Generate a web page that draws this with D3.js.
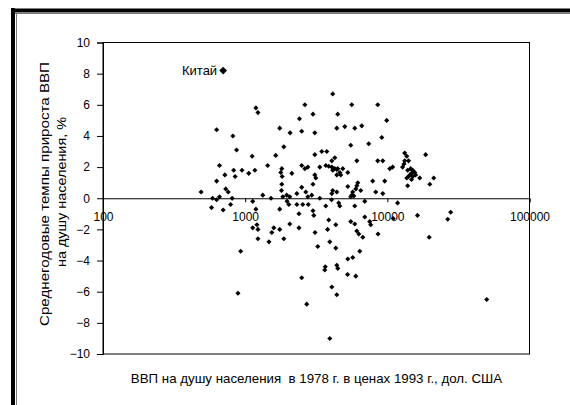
<!DOCTYPE html>
<html lang="ru">
<head>
<meta charset="UTF-8">
<script src="https://d3js.org/d3.v7.min.js"></script>
<style>
  body { margin: 0; background: #fff; }
  text { font-family: "Liberation Sans", Arial, sans-serif; fill: #000; }
</style>
</head>
<body>
<svg id="chart" width="570" height="405"></svg>
<script>
// ВВП на душу населения (1978, $ 1993) и среднегодовой темп прироста, %
const gdp = [
  1190,1230,630,820,1750,2070,2630,3000,2410,2500,
  3090,870,1120,1870,1640,3090,3460,3750,660,1440,
  720,830,850,950,1060,1170,1810,1780,1820,2130,
  2500,2630,2760,3090,3140,3350,3690,3870,630,490,
  730,760,1810,1800,2500,2670,3000,590,630,660,
  810,1330,1520,1840,1960,2060,2310,2760,2940,3350,
  1970,2030,2310,2540,2780,790,3690,4130,5620,8560,
  4480,9900,4410,5020,5900,6610,9140,5530,7400,4270,
  4070,6100,8560,9290,13250,13700,18600,13250,14100,12800,
  13100,10400,10900,13900,14600,15100,15600,14800,14400,15800,
  15100,14100,16900,13700,14800,21200,19900,13900,4070,4270,
  4410,4130,4480,4630,4860,5270,4410,4700,7890,9590,
  5270,6200,6100,6000,6500,4130,4410,4070,8290,9290,
  5710,5620,5810,5530,4050,4550,4630,6940,11800,5900,
  580,700,1130,1190,1750,2390,3000,3040,3870,1130,
  1230,1210,1590,1540,1750,2060,2390,3100,3800,3940,
  1230,1470,1870,3240,930,3660,3630,2500,890,2710,
  3940,5530,5900,6940,7520,7640,4340,6100,6300,6720,
  8600,11000,16300,19700,27900,26600,4340,6400,5710,5270,
  4410,4480,5250,6000,4070,4410,50000
];
const growth = [
  5.8,5.5,4.4,4.0,4.5,4.2,6.0,5.4,5.1,4.3,
  4.2,3.1,2.7,3.3,2.75,2.8,3.0,3.0,2.1,2.1,
  1.5,1.8,1.4,1.8,1.6,1.8,1.9,1.65,1.4,1.6,
  2.1,1.9,2.0,1.5,1.3,2.0,2.1,2.05,1.1,0.4,
  0.6,0.4,0.9,0.5,0.7,0.4,0.9,0.0,-0.1,0.1,
  0.0,0.2,0.0,0.1,0.2,0.1,0.3,0.1,0.2,0.0,
  -0.2,-0.4,-0.4,-0.4,-0.4,-0.4,-0.5,6.7,6.0,6.0,
  5.4,5.0,4.5,4.6,4.5,4.65,3.9,3.4,3.5,2.6,
  2.4,2.4,2.4,2.4,2.9,2.7,2.8,2.4,2.4,2.0,
  2.2,1.9,2.0,1.8,1.9,1.8,1.65,1.6,1.5,1.5,
  1.4,1.4,1.3,1.3,1.2,1.3,0.9,0.8,2.0,1.9,
  1.85,1.8,1.9,1.65,1.9,1.65,1.5,1.5,1.1,1.1,
  0.75,1.0,0.8,0.6,0.5,0.5,0.4,0.3,0.4,0.3,
  0.4,0.2,0.15,0.1,-0.1,-0.3,-0.5,-0.2,-0.3,-0.5,
  -0.6,-0.75,-0.2,-0.7,-0.7,-1.0,-0.8,-1.1,-1.4,-1.9,
  -2.0,-1.7,-1.9,-2.2,-2.0,-1.65,-1.9,-2.2,-2.0,-2.8,
  -2.6,-2.8,-2.6,-3.1,-3.4,-4.4,-4.6,-5.1,-6.1,-6.8,
  -9.0,-1.5,-1.65,-1.2,-1.5,-1.7,-1.7,-2.1,-2.3,-2.5,
  -2.3,-1.3,-1.1,-2.5,-0.9,-1.35,-3.2,-3.4,-3.8,-3.9,
  -4.3,-4.5,-4.9,-5.0,-5.7,-6.2,-6.5
];
const china = { name: 'Китай', gdp: 700, growth: 8.2 };
const xTicks = [100, 1000, 10000, 100000];
const yTicks = [-10, -8, -6, -4, -2, 0, 2, 4, 6, 8, 10];

const svg = d3.select('#chart');
const plot = { left: 103, right: 529.5, top: 42.5, bottom: 354 };

const x = d3.scaleLog().domain([100, 100000]).range([plot.left, plot.right]);
const y = d3.scaleLinear().domain([-10, 10]).range([plot.bottom, plot.top]);

// рамка рисунка
svg.append('line').attr('x1', 13).attr('x2', 13).attr('y1', 8).attr('y2', 405)
  .attr('stroke', '#000').attr('stroke-width', 4);
svg.append('line').attr('x1', 11).attr('x2', 570).attr('y1', 10.5).attr('y2', 10.5)
  .attr('stroke', '#000').attr('stroke-width', 4);
svg.append('line').attr('x1', 16.5).attr('x2', 16.5).attr('y1', 13).attr('y2', 405)
  .attr('stroke', '#777').attr('stroke-width', 1);
svg.append('line').attr('x1', 15).attr('x2', 570).attr('y1', 13.5).attr('y2', 13.5)
  .attr('stroke', '#777').attr('stroke-width', 1);

// область построения
svg.append('rect')
  .attr('x', plot.left).attr('y', plot.top)
  .attr('width', plot.right - plot.left).attr('height', plot.bottom - plot.top)
  .attr('fill', 'none').attr('stroke', '#000').attr('stroke-width', 1);

// ось Y
const yAxis = d3.axisLeft(y).tickValues(yTicks).tickSize(6).tickPadding(7);
const gy = svg.append('g').attr('transform', `translate(${plot.left},0)`).call(yAxis);
gy.select('.domain').attr('stroke', '#000');
gy.selectAll('text').attr('font-size', 12).attr('font-family', '"Liberation Sans", Arial, sans-serif');

// ось X по нулевой линии
const xAxis = d3.axisBottom(x).tickValues(xTicks).tickFormat(d3.format('d')).tickSize(4).tickPadding(10);
const gx = svg.append('g').attr('transform', `translate(0,${y(0)})`).call(xAxis);
gx.select('.domain').attr('stroke', '#000');
gx.selectAll('text').attr('font-size', 12).attr('font-family', '"Liberation Sans", Arial, sans-serif');

// точки
const pts = gdp.map((g, i) => ({ gdp: g, growth: growth[i] }));
const diamond = d3.symbol().type(d3.symbolSquare).size(13);
svg.append('g').selectAll('path').data(pts).enter().append('path')
  .attr('d', diamond)
  .attr('transform', d => `translate(${x(d.gdp)},${y(d.growth)}) rotate(45)`)
  .attr('fill', '#000');

svg.append('path')
  .attr('d', d3.symbol().type(d3.symbolSquare).size(30))
  .attr('transform', `translate(${x(china.gdp)},${y(china.growth)}) rotate(45)`)
  .attr('fill', '#000');
svg.append('text').text(china.name)
  .attr('x', x(china.gdp) - 6).attr('y', y(china.growth) + 4)
  .attr('text-anchor', 'end').attr('font-size', 13);

// подписи осей
svg.append('text')
  .text('ВВП на душу населения\u00a0 в 1978 г. в ценах 1993 г., дол. США')
  .attr('x', 316.5).attr('y', 383)
  .attr('text-anchor', 'middle').attr('font-size', 13.3);

svg.append('text')
  .text('Среднегодовые темпы прироста ВВП')
  .attr('transform', 'translate(49,194) rotate(-90)')
  .attr('text-anchor', 'middle').attr('font-size', 13)
  .attr('textLength', 264).attr('lengthAdjust', 'spacingAndGlyphs');
svg.append('text')
  .text('на душу населения, %')
  .attr('transform', 'translate(66,192) rotate(-90)')
  .attr('text-anchor', 'middle').attr('font-size', 13)
  .attr('textLength', 150).attr('lengthAdjust', 'spacingAndGlyphs');
</script>
</body>
</html>
